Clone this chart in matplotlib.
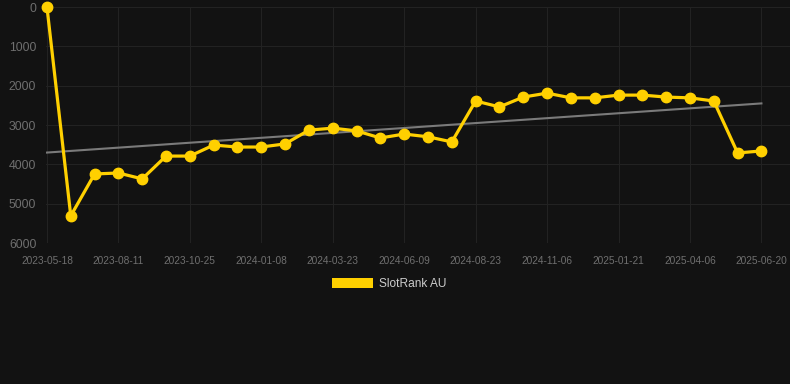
import numpy as np
import matplotlib.pyplot as plt
from matplotlib.patches import Patch

# ── Data (rank per sample, lower is better) ──
RANKS = [
    0, 5310, 4245, 4220, 4370, 3790, 3790, 3510, 3560, 3560,
    3480, 3130, 3080, 3150, 3330, 3230, 3300, 3430, 2390, 2540,
    2290, 2190, 2310, 2310, 2240, 2240, 2290, 2310, 2390, 3710,
    3660,
]
TICK_LABELS = [
    "2023-05-18", "2023-08-11", "2023-10-25", "2024-01-08", "2024-03-23",
    "2024-06-09", "2024-08-23", "2024-11-06", "2025-01-21", "2025-04-06",
    "2025-06-20",
]
Y_TICKS = [0, 1000, 2000, 3000, 4000, 5000, 6000]
SERIES_NAME = "SlotRank AU"

BG = "#121212"
YELLOW = "#FFD000"
TICK_COLOR = "#6f6f6f"
GRID_COLOR = "#222222"

plt.rcParams["font.family"] = ["Liberation Sans", "DejaVu Sans"]

x = np.arange(len(RANKS))
y = np.array(RANKS, dtype=float)
slope, icpt = np.polyfit(x, y, 1)

fig = plt.figure(figsize=(7.9, 3.84), dpi=100, facecolor=BG)
ax = fig.add_axes([46 / 790, 1 - 243 / 384, 1 - 46 / 790, 236 / 384])
ax.set_facecolor(BG)

ax.plot(x, slope * x + icpt, color="#7a7a7a", lw=1.5, zorder=2)
ax.plot(x, y, color=YELLOW, lw=2.3, marker="o", ms=7.5,
        clip_on=False, zorder=3)

ax.set_xlim(-0.04, 31.2)
ax.set_ylim(6000, 0)
ax.set_yticks(Y_TICKS)
ax.set_yticklabels([str(v) for v in Y_TICKS], fontsize=8.8, color=TICK_COLOR)
ax.set_xticks(x[::3])
ax.set_xticklabels(TICK_LABELS, fontsize=7.3, color=TICK_COLOR)
ax.tick_params(axis="y", length=0, pad=7)
ax.tick_params(axis="x", length=0, pad=9)
ax.grid(True, color=GRID_COLOR, lw=0.8)
ax.set_axisbelow(True)
for s in ax.spines.values():
    s.set_visible(False)

handles = [Patch(fc=YELLOW, ec="none", label=SERIES_NAME)]
fig.legend(handles=handles, loc="center", bbox_to_anchor=(389 / 790, 1 - 284 / 384),
           frameon=False, fontsize=8.6, labelcolor="#cccccc",
           handlelength=3.4, handleheight=0.85, handletextpad=0.5)

fig.savefig("out.png", dpi=100, facecolor=BG)
